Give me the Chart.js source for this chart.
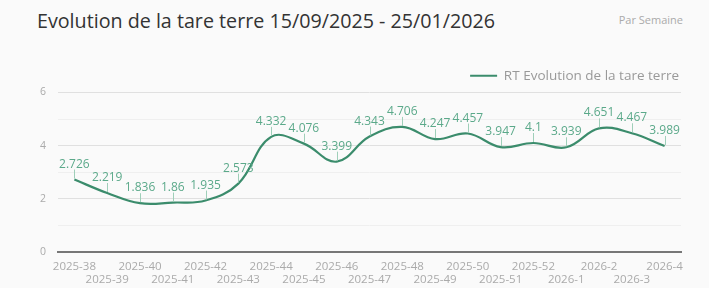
<!DOCTYPE html>
<html>
<head>
<meta charset="utf-8">
<script src="https://cdn.jsdelivr.net/npm/chart.js@4"></script>
<style>
  html, body { margin: 0; padding: 0; background: #fafafa; }
  #wrap { position: relative; width: 709px; height: 288px; overflow: hidden; }
  #title { position: absolute; left: 37px; top: 7px; font-family: "Open Sans", sans-serif; font-size: 19.7px; color: #333; white-space: nowrap; }
  #sub { position: absolute; right: 26px; top: 12px; font-family: "Open Sans", sans-serif; font-size: 11px; color: #aaa; white-space: nowrap; }
  canvas { position: absolute; left: 0; top: 0; }
</style>
</head>
<body>
<div id="wrap">
  <div id="title">Evolution de la tare terre 15/09/2025 - 25/01/2026</div>
  <div id="sub">Par Semaine</div>
  <canvas id="c" width="709" height="288"></canvas>
</div>
<script>
const categories = ["2025-38","2025-39","2025-40","2025-41","2025-42","2025-43","2025-44","2025-45","2025-46","2025-47","2025-48","2025-49","2025-50","2025-51","2025-52","2026-1","2026-2","2026-3","2026-4"];
const tareValues = [2.726, 2.219, 1.836, 1.86, 1.935, 2.573, 4.332, 4.076, 3.399, 4.343, 4.706, 4.247, 4.457, 3.947, 4.10, 3.939, 4.651, 4.467, 3.989];
const seriesName = "RT Evolution de la tare terre";
const yTicks = [0, 2, 4, 6];

const lineColor = "#3b8c6c";
const labelColor = "#5ba98a";

const dataLabels = {
  id: "dataLabels",
  afterDatasetsDraw(chart) {
    const ctx = chart.ctx;
    const meta = chart.getDatasetMeta(0);
    ctx.save();
    ctx.font = "12px 'Open Sans', sans-serif";
    ctx.fillStyle = labelColor;
    ctx.strokeStyle = "#9fcfb9";
    ctx.lineWidth = 1;
    ctx.textAlign = "center";
    ctx.textBaseline = "alphabetic";
    meta.data.forEach((pt, i) => {
      const x = pt.x, y = pt.y;
      ctx.beginPath();
      ctx.moveTo(Math.round(x) + 0.5, y - 1);
      ctx.lineTo(Math.round(x) + 0.5, y - 10);
      ctx.stroke();
      ctx.fillText(String(tareValues[i]), x, y - 12);
    });
    ctx.restore();
  }
};

new Chart(document.getElementById("c"), {
  type: "line",
  data: {
    labels: categories,
    datasets: [{
      label: seriesName,
      data: tareValues,
      borderColor: lineColor,
      backgroundColor: lineColor,
      borderWidth: 2.2,
      tension: 0.4,
      pointRadius: 0,
      fill: false
    }]
  },
  options: {
    responsive: false,
    animation: false,
    layout: { padding: { top: 67, right: 28, bottom: 1, left: 0 } },
    plugins: {
      legend: {
        position: "top",
        align: "end",
        labels: {
          usePointStyle: true,
          pointStyle: "line",
          pointStyleWidth: 27,
          boxHeight: 2,
          color: "#999",
          padding: 2,
          font: { family: "'Open Sans', sans-serif", size: 13.5 }
        }
      },
      tooltip: { enabled: false }
    },
    scales: {
      x: {
        offset: true,
        afterFit(scale) { scale.height = 35; },
        grid: { display: false, drawTicks: false },
        border: { display: true, color: "#777", width: 2 },
        ticks: {
          autoSkip: false,
          maxRotation: 0,
          minRotation: 0,
          padding: 8,
          color: "#aaa",
          font: { family: "'Open Sans', sans-serif", size: 11.5, lineHeight: 1.13 },
          callback: function(v, i) {
            const l = categories[i];
            return i % 2 === 0 ? [l, ""] : ["", l];
          }
        }
      },
      y: {
        min: 0,
        max: 6,
        afterFit(scale) { scale.width = 58; },
        border: { display: false },
        grid: {
          drawTicks: false,
          color: (c) => (c.tick && c.tick.value % 2 === 0) ? "#e0e0e0" : "#efefef",
          lineWidth: 1
        },
        ticks: {
          stepSize: 1,
          padding: 12,
          color: "#aaa",
          font: { family: "'Open Sans', sans-serif", size: 10.5 },
          callback: (v) => yTicks.includes(v) ? String(v) : ""
        }
      }
    }
  },
  plugins: [dataLabels]
});
</script>
</body>
</html>
